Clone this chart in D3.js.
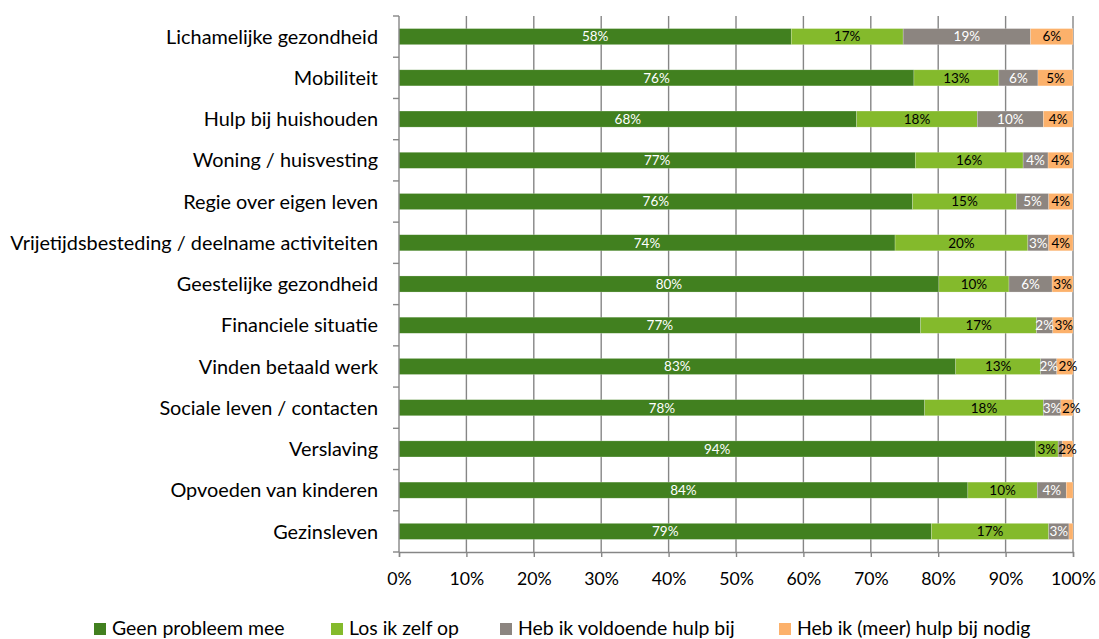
<!DOCTYPE html>
<html><head><meta charset="utf-8">
<script src="https://cdn.jsdelivr.net/npm/d3@7"></script>
<style>body{margin:0;background:#fff}svg{display:block}</style>
</head><body>
<svg id="c" width="1099" height="639"></svg>
<script>
const categories = ["Lichamelijke gezondheid","Mobiliteit","Hulp bij huishouden","Woning / huisvesting","Regie over eigen leven","Vrijetijdsbesteding / deelname activiteiten","Geestelijke gezondheid","Financiele situatie","Vinden betaald werk","Sociale leven / contacten","Verslaving","Opvoeden van kinderen","Gezinsleven"];
const geenProbleem  = [58.2,76.4,67.9,76.6,76.2,73.6,80.1,77.4,82.6,78.0,94.4,84.4,79.0];
const losZelf       = [16.6,12.6,17.9,16.0,15.4,19.7,10.4,17.2,12.6,17.6,3.4,10.3,17.4];
const voldoendeHulp = [18.9,5.8,9.8,3.7,4.8,3.1,6.4,2.4,2.4,2.6,0.6,4.3,3.0];
const meerHulpNodig = [6.3,5.2,4.4,3.7,3.6,3.6,3.1,3.0,2.4,1.8,1.6,1.0,0.6];
const seriesNames = ["Geen probleem mee","Los ik zelf op","Heb ik voldoende hulp bij","Heb ik (meer) hulp bij nodig"];
const xTickValues = [0,10,20,30,40,50,60,70,80,90,100];

const seriesValues = [geenProbleem, losZelf, voldoendeHulp, meerHulpNodig];
const colors = ["#41801f","#84ba2c","#8c8580","#fcb16b"];
const labelColors = ["#ffffff","#000000","#ffffff","#000000"];
const FONT = "Lato, 'Open Sans', sans-serif";

const svg = d3.select("#c");
function fit(text, target){
  const t = svg.append("text").attr("font-family",FONT).attr("font-size",100).text(text);
  const w = t.node().getComputedTextLength(); t.remove();
  return 100*target/w;
}
const catSize = fit("Vrijetijdsbesteding / deelname activiteiten", 368);
const tickSize = fit("100%", 45);
const valSize = fit("58%", 26.5);
const legSize = fit("Geen probleem mee", 178);

const L = 399, R = 1073, T = 16, B = 552;
const x = d3.scaleLinear().domain([0,100]).range([L,R]);
const y = d3.scaleBand().domain(categories).range([T,B]).paddingInner(0.61).paddingOuter(0.305);

const gridColor = "#868686";
svg.append("g").selectAll("line").data(xTickValues.filter(d=>d>0)).join("line")
  .attr("x1",d=>x(d)).attr("x2",d=>x(d)).attr("y1",T).attr("y2",B)
  .attr("stroke",gridColor).attr("stroke-width",1.4);

const rows = categories.map((c,i)=>{ const o={cat:c}; seriesNames.forEach((s,j)=>o[s]=seriesValues[j][i]); return o; });
const stack = d3.stack().keys(seriesNames)(rows);

const gBars = svg.append("g");
stack.forEach((layer,j)=>{
  gBars.append("g").selectAll("rect").data(layer).join("rect")
    .attr("x",d=>x(d[0])).attr("width",d=>x(d[1])-x(d[0]))
    .attr("y",d=>y(d.data.cat)).attr("height",y.bandwidth())
    .attr("fill",colors[j]).attr("stroke","#ffffff").attr("stroke-opacity",0.35).attr("stroke-width",0.6);
});
const gLab = svg.append("g");
rows.forEach((r,i)=>{
  let prevRight = -Infinity;
  stack.forEach((layer,j)=>{
    const d = layer[i];
    const v = d[1]-d[0];
    if (v < 1.5) return;
    const t = gLab.append("text")
      .attr("y",y(r.cat)+y.bandwidth()/2).attr("dy","0.36em").attr("text-anchor","middle")
      .attr("font-family",FONT).attr("font-size",valSize).attr("fill",labelColors[j])
      .text(Math.round(v)+"%");
    const w = t.node().getComputedTextLength();
    let cx = (x(d[0])+x(d[1]))/2;
    if (cx - w/2 < prevRight + 0.5) cx = prevRight + 0.5 + w/2;
    t.attr("x",cx);
    prevRight = cx + w/2;
  });
});

const gy = svg.append("g");
gy.append("line").attr("x1",L).attr("x2",L).attr("y1",T).attr("y2",B).attr("stroke",gridColor).attr("stroke-width",1.4);
const bounds = d3.range(categories.length+1).map(i=>T+i*y.step());
gy.selectAll("line.t").data(bounds).join("line").attr("class","t")
  .attr("x1",L-6).attr("x2",L).attr("y1",d=>d).attr("y2",d=>d).attr("stroke",gridColor).attr("stroke-width",1.4);
gy.selectAll("text").data(categories).join("text")
  .attr("x",378).attr("y",d=>y(d)+y.bandwidth()/2).attr("dy","0.36em").attr("text-anchor","end")
  .attr("font-family",FONT).attr("font-size",catSize).attr("fill","#000").text(d=>d);

const xAxis = d3.axisBottom(x).tickValues(xTickValues).tickFormat(d=>d+"%").tickSize(5).tickPadding(15);
const gx = svg.append("g").attr("transform",`translate(0,${B})`).call(xAxis);
gx.select(".domain").attr("stroke",gridColor).attr("stroke-width",1.4);
gx.selectAll(".tick line").attr("stroke",gridColor).attr("stroke-width",1.4);
gx.selectAll(".tick text").attr("font-family",FONT).attr("font-size",tickSize).attr("fill","#000");

const legX = [94,331,500,779];
const lg = svg.append("g");
seriesNames.forEach((s,j)=>{
  lg.append("rect").attr("x",legX[j]).attr("y",623).attr("width",12).attr("height",12).attr("fill",colors[j]);
  lg.append("text").attr("x",legX[j]+18).attr("y",628).attr("dy","0.36em")
    .attr("font-family",FONT).attr("font-size",legSize*0.97).attr("fill","#000").text(s);
});
</script>
</body></html>
